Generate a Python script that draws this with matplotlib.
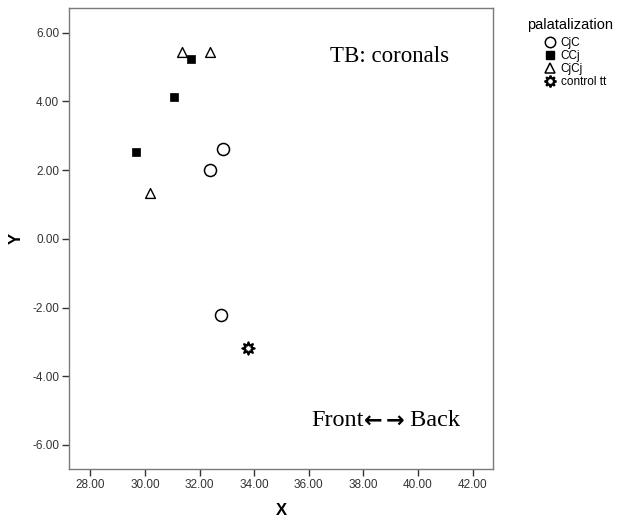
import matplotlib.pyplot as plt
from matplotlib.lines import Line2D

# palatalization groups
cjc_x = [32.87, 32.38, 32.79]
cjc_y = [2.62, 2.01, -2.21]
ccj_x = [31.69, 31.08, 29.67]
ccj_y = [5.23, 4.12, 2.52]
cjcj_x = [31.36, 32.38, 30.19]
cjcj_y = [5.45, 5.45, 1.33]
ctrl_x = [33.76]
ctrl_y = [-3.18]

labels = ["CjC", "CCj", "CjCj", "control tt"]
xticks = [28, 30, 32, 34, 36, 38, 40, 42]
yticks = [-6, -4, -2, 0, 2, 4, 6]

plt.rcParams['font.family'] = ['Liberation Sans', 'DejaVu Sans']
serif = ['Liberation Serif', 'DejaVu Serif']

fig = plt.figure(figsize=(6.19, 5.22), dpi=100)
ax = fig.add_axes([69/619, 53/522, 424/619, 461/522])

star = (8, 1, 0)
ax.scatter(cjc_x, cjc_y, s=75, marker='o', facecolors='white', edgecolors='black', linewidths=1.1, zorder=3)
ax.scatter(ccj_x, ccj_y, s=40, marker='s', facecolors='black', edgecolors='black', linewidths=0.5, zorder=3)
ax.scatter(cjcj_x, cjcj_y, s=50, marker='^', facecolors='white', edgecolors='black', linewidths=1.0, zorder=3)
ax.scatter(ctrl_x, ctrl_y, s=80, marker=star, facecolors='white', edgecolors='black', linewidths=1.5, zorder=3)

ax.set_xlim(27.22, 42.75)
ax.set_ylim(-6.7, 6.72)
ax.set_xticks(xticks)
ax.set_yticks(yticks)
ax.set_xticklabels(["%.2f" % v for v in xticks])
ax.set_yticklabels(["%.2f" % v for v in yticks])

for sp in ax.spines.values():
    sp.set_color('#7a7a7a')
    sp.set_linewidth(1.0)
ax.tick_params(direction='out', length=5, width=1.0, color='#333333',
               labelsize=8.5, labelcolor='#333333', pad=2)

ax.set_xlabel("X", fontsize=12, fontweight='bold', labelpad=9)
ax.set_ylabel("Y", fontsize=12, fontweight='bold', labelpad=6)

ax.text(0.616, 0.894, "TB: coronals", transform=ax.transAxes, fontsize=16.5,
        family=serif, va='center', ha='left')
t1 = ax.text(0.572, 0.106, "Front", transform=ax.transAxes, fontsize=17.5,
             family=serif, va='center', ha='left')
t2 = ax.annotate("\u2190", xy=(1, 0.45), xycoords=t1, fontsize=16,
                 family=['DejaVu Sans'], fontweight='bold', va='center', ha='left')
t3 = ax.annotate("\u2192", xy=(1, 0.5), xycoords=t2, xytext=(2, 0),
                 textcoords='offset points', fontsize=16,
                 family=['DejaVu Sans'], fontweight='bold', va='center', ha='left')
ax.annotate(" Back", xy=(1, 0.55), xycoords=t3, fontsize=17.5,
            family=serif, va='center', ha='left')

handles = [
    Line2D([], [], ls='none', marker='o', ms=7.5, mfc='white', mec='black', mew=1.1),
    Line2D([], [], ls='none', marker='s', ms=5.5, mfc='black', mec='black'),
    Line2D([], [], ls='none', marker='^', ms=6.5, mfc='white', mec='black', mew=1.1),
    Line2D([], [], ls='none', marker=star, ms=8.5, mfc='white', mec='black', mew=1.5),
]
fig.text(527/619, 1 - 25/522, "palatalization", fontsize=10.5, va='center', ha='left')
leg = fig.legend(handles, labels, loc='upper left',
                 bbox_to_anchor=(537/619, 1 - 31/522), frameon=False,
                 fontsize=8.5, handletextpad=0.3,
                 handlelength=1.2, labelspacing=0.1, borderpad=0)

fig.savefig("out.png", dpi=100)
